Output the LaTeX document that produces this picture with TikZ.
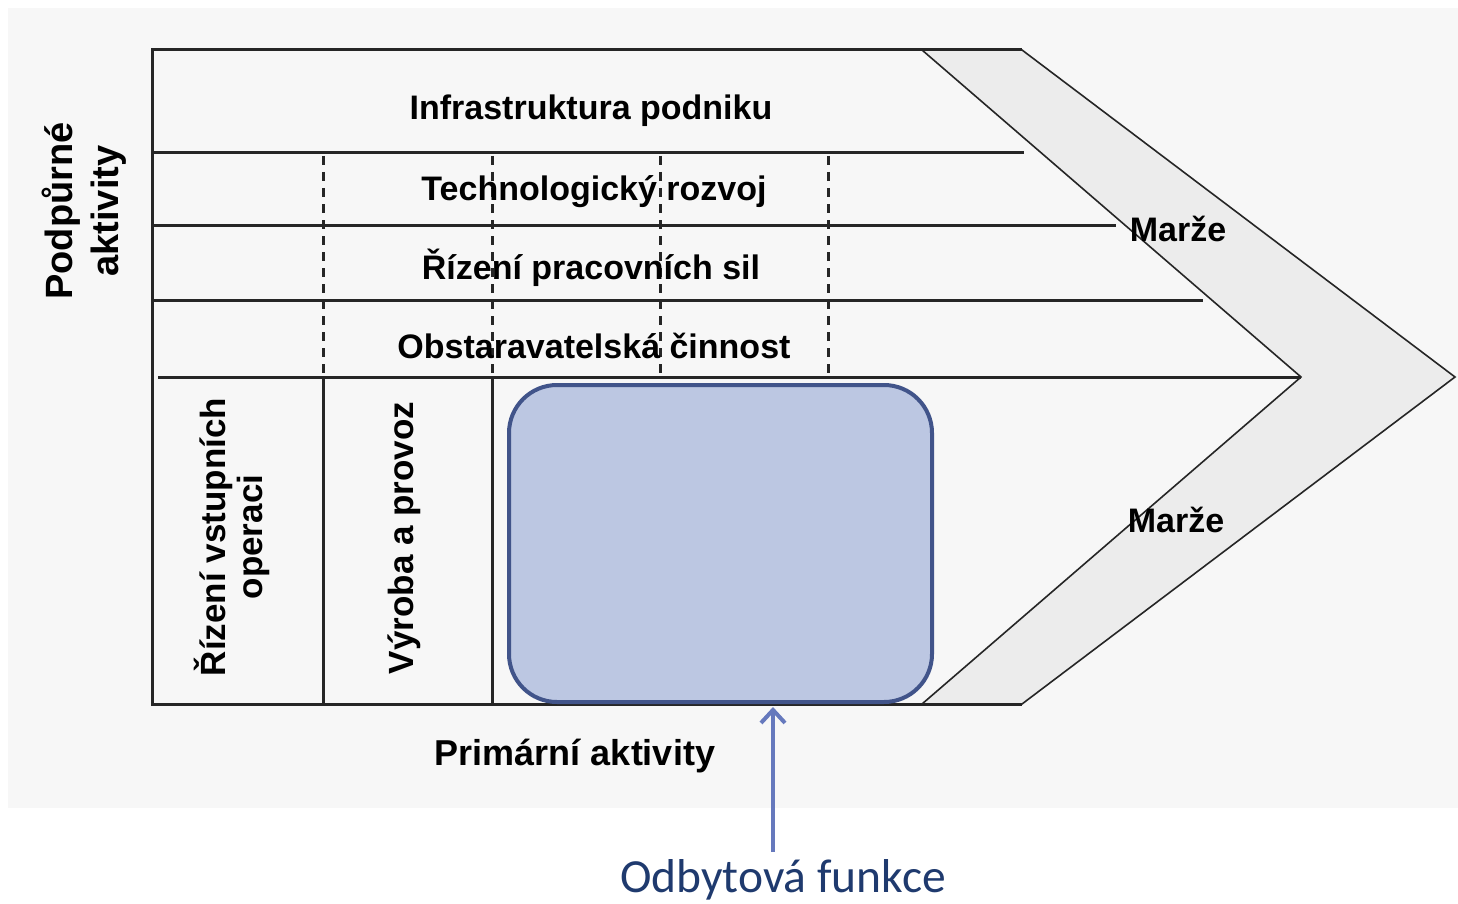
\documentclass[tikz,border=0pt]{standalone}
\usepackage{fontspec}
\setmainfont{Liberation Sans}
\newfontfamily\carl{Carlito}
\usetikzlibrary{arrows.meta}
\definecolor{bgc}{HTML}{F7F7F7}
\definecolor{bandc}{HTML}{ECECEC}
\definecolor{boxfill}{HTML}{BCC7E2}
\definecolor{boxdraw}{HTML}{41548A}
\definecolor{arrc}{HTML}{6679BD}
\definecolor{txtblue}{HTML}{1F3A6E}
\tikzset{
  frame/.style={line width=3pt, draw=black!85},
  thin/.style={line width=1.6pt, draw=black!85},
  dsh/.style={line width=3pt, draw=black!85, dash pattern=on 9pt off 7pt},
  lbl/.style={font=\bfseries\fontsize{34}{38}\selectfont, inner sep=0pt},
  vlbl/.style={font=\bfseries\fontsize{35}{37}\selectfont, inner sep=0pt, rotate=90, align=center},
}
\begin{document}
\begin{tikzpicture}[x=1pt,y=-1pt]
\useasboundingbox (0,0) rectangle (1458,904);
\fill[bgc] (8,8) rectangle (1458,808);
% chevron band
\filldraw[fill=bandc, thin] (922,50) -- (1022,50) -- (1455,377) -- (1022,704) -- (922,704) -- (1301,377) -- cycle;
% frame lines
\draw[frame] (152,50) -- (1022,50);
\draw[frame] (152,48.5) -- (152,705.5);
\draw[frame] (152,704) -- (1022,704);
\draw[frame] (152,153) -- (1024,153);
\draw[frame] (152,225) -- (1116,225);
\draw[frame] (152,300) -- (1203,300);
\draw[frame] (158,377) -- (1301,377);
% dashed verticals
\foreach \xx in {323,492,660,828} \draw[dsh] (\xx,156) -- (\xx,376);
% primary cell separators
\draw[frame] (323,377) -- (323,704);
\draw[frame] (492,377) -- (492,704);
% support labels
\node[lbl] (infra) at (591,111) {Infrastruktura podniku};
\node[lbl] (tech) at (594,192) {Technologický rozvoj};
\node[lbl] (rizeni) at (591,268) {Řízení pracovních sil};
\node[lbl] (obst) at (594,346) {Obstaravatelská činnost};
\node[lbl] (marze1) at (1178,229) {Marže};
\node[lbl] (marze2) at (1176,520) {Marže};
\node[vlbl, font=\bfseries\fontsize{38}{46}\selectfont] (podp) at (84,211) {Podpůrné\\aktivity};
\node[vlbl] (vstup) at (232,537) {Řízení vstupních\\operaci};
\node[vlbl] (vyroba) at (404,538) {Výroba a provoz};
\node[lbl, font=\bfseries\fontsize{36}{40}\selectfont] (prim) at (575,756) {Primární aktivity};
% blue box
\node[draw=boxdraw, fill=boxfill, line width=4pt, rounded corners=48pt, minimum width=423pt, minimum height=317pt, inner sep=0pt] (odbox) at (720.5,543.5) {};
% label and arrow
\node[font=\carl\fontsize{47.5}{52}\selectfont, text=txtblue, inner sep=0pt] (odb) at (783,880) {Odbytová funkce};
\coordinate (astart) at (773,852);
\coordinate (aend) at (773,707);
\draw[arrc, line width=4pt, -{Straight Barb[length=13pt,width=24pt,line width=4pt]}] (astart) -- (aend);
\end{tikzpicture}
\end{document}
